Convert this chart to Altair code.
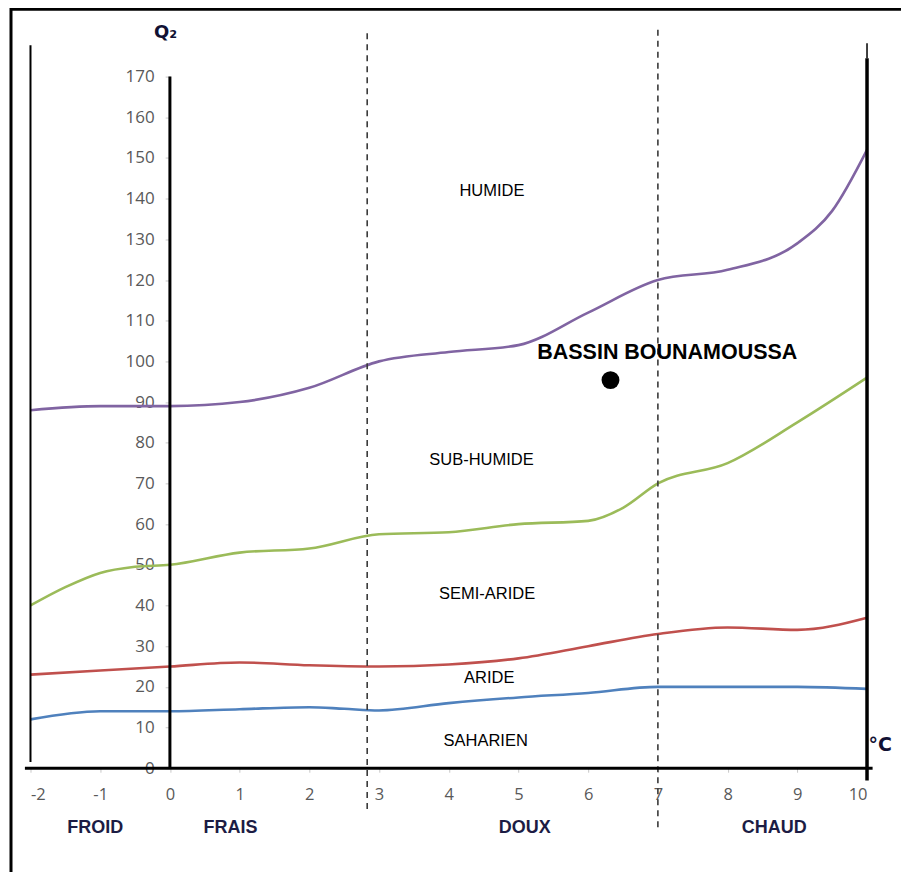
import altair as alt
import pandas as pd

# ---- data ----
x_pts = [-2, -1, 0, 1, 2, 3, 4, 5, 6, 7, 8, 9, 9.5, 10]
humide = [88, 89, 89, 90, 93.5, 100, 102.3, 104, 112, 120, 122.5, 129, 137, 152]
x_green = [-2, -1.5, -1, -0.5, 0, 1, 2, 3, 4, 5, 6, 6.5, 7, 8, 9, 10]
subhumide = [40, 44.5, 48, 49.5, 50, 53, 54, 57.5, 58, 60, 60.8, 64, 70, 75, 85, 96]
x_red = [-2, -1, 0, 1, 2, 3, 4, 5, 6, 7, 8, 9, 10]
semiaride = [23, 24, 25, 26, 25.3, 25, 25.5, 27, 30, 33, 34.6, 34, 37]
x_blue = [-2, -1, 0, 1, 2, 2.5, 3, 4, 5, 6, 7, 8, 9, 10]
aride = [12, 14, 14, 14.5, 15, 14.6, 14.2, 16, 17.4, 18.5, 20, 20, 20, 19.5]

station_name = ["BASSIN BOUNAMOUSSA"]
station_m = [6.32]
station_q2 = [95.4]

zone_names = ["HUMIDE", "SUB-HUMIDE", "SEMI-ARIDE", "ARIDE", "SAHARIEN"]
zone_x = [4.62, 4.47, 4.55, 4.58, 4.53]
zone_y = [142, 75.8, 42.8, 22.2, 6.7]

winter_names = ["FROID", "FRAIS", "DOUX", "CHAUD"]
winter_x = [-1.07, 0.87, 5.09, 8.67]
winter_y = [-14.6, -14.6, -14.6, -14.6]

x_ticks = list(range(-2, 11))
y_ticks = list(range(0, 171, 10))

# ---- tables ----
curves = pd.concat([
    pd.DataFrame({"m": x_pts, "q2": humide, "c": "h"}),
    pd.DataFrame({"m": x_green, "q2": subhumide, "c": "s"}),
    pd.DataFrame({"m": x_red, "q2": semiaride, "c": "a"}),
    pd.DataFrame({"m": x_blue, "q2": aride, "c": "b"}),
])

X = alt.X("m:Q", scale=alt.Scale(domain=[-2, 10], nice=False, zero=False),
          axis=alt.Axis(values=x_ticks, title=None, domain=False, grid=False,
                        tickSize=4, tickColor="#c8c8c8", labelColor="#595959",
                        labelFont="Open Sans", labelFontSize=16.5, labelPadding=14,
                        labelExpr="'' + datum.value"))
Y = alt.Y("q2:Q", scale=alt.Scale(domain=[0, 170], nice=False, zero=False),
          axis=alt.Axis(values=y_ticks, title=None, domain=False, grid=False,
                        offset=-139.75, tickSize=5, tickColor="#c8c8c8",
                        labelColor="#595959", labelFont="Open Sans",
                        labelFontSize=17, labelPadding=11,
                        labelExpr="'' + datum.value"))

base = alt.Chart(curves)

lines = base.mark_line(interpolate="monotone", strokeWidth=2.6, clip=False).encode(
    x=X, y=Y,
    color=alt.Color("c:N", scale=alt.Scale(domain=["h", "s", "a", "b"],
                    range=["#8064a2", "#9bbb59", "#c0504d", "#4f81bd"]), legend=None),
    detail="c:N",
)

# structural rules (in data units)
rules_df = pd.DataFrame({
    "m": [-2, 0, 10, 10],
    "q2": [1.5, 0, -3, 174.5],
    "q2b": [177.7, 170, 174.5, 178.2],
    "w": [2, 3, 3.5, 1.5],
})
vrules = alt.Chart(rules_df).mark_rule(color="black", clip=False).encode(
    x="m:Q", y="q2:Q", y2="q2b:Q",
    strokeWidth=alt.StrokeWidth("w:Q", scale=None),
)
dash_df = pd.DataFrame({"m": [2.83, 7.0], "q2": [-10, -14.5], "q2b": [181.5, 181.5]})
dashes = alt.Chart(dash_df).mark_rule(color="#3a3a3a", strokeWidth=1.6,
                                      strokeDash=[6, 5], clip=False).encode(
    x="m:Q", y="q2:Q", y2="q2b:Q")
xaxis_df = pd.DataFrame({"m": [-2.08], "m2": [10.08], "q2": [0]})
xaxis_line = alt.Chart(xaxis_df).mark_rule(color="black", strokeWidth=3, clip=False).encode(
    x="m:Q", x2="m2:Q", y="q2:Q")

# station point and label
st_df = pd.DataFrame({"m": station_m, "q2": station_q2, "name": station_name})
pt = alt.Chart(st_df).mark_circle(color="black", opacity=1, size=320).encode(x="m:Q", y="q2:Q")
st_lbl = alt.Chart(pd.DataFrame({"m": [5.27], "q2": [102], "name": station_name})).mark_text(
    align="left", baseline="middle", font="Liberation Sans", fontWeight="bold",
    fontSize=21.5, color="black").encode(x="m:Q", y="q2:Q", text="name:N")

zone_df = pd.DataFrame({"m": zone_x, "q2": zone_y, "name": zone_names})
zones = alt.Chart(zone_df).mark_text(font="Liberation Sans", fontSize=16.5, color="black",
                                     baseline="middle").encode(x="m:Q", y="q2:Q", text="name:N")

win_df = pd.DataFrame({"m": winter_x, "q2": winter_y, "name": winter_names})
wins = alt.Chart(win_df).mark_text(font="Liberation Sans", fontWeight="bold", fontSize=18,
                                   color="#1c1c44", baseline="middle", clip=False).encode(
    x="m:Q", y="q2:Q", text="name:N")

ax_lbl = alt.Chart(pd.DataFrame({"m": [-0.1, 10.15], "q2": [180.7, 5.7],
                                 "name": ["Q₂", "°C"], "s": [18, 19]})).mark_text(
    font="DejaVu Sans", fontWeight="bold", color="#111133", baseline="middle",
    align="left", dx=-9).encode(
    x="m:Q", y="q2:Q", text="name:N", size=alt.Size("s:Q", scale=None))

# outer frame (decoration, in pixels)
frame_top = alt.Chart(pd.DataFrame({"k": [0]})).mark_rule(color="black", strokeWidth=3,
                                                          clip=False).encode(
    x=alt.value(-20.5), x2=alt.value(880), y=alt.value(-67.4))
frame_left = alt.Chart(pd.DataFrame({"k": [0]})).mark_rule(color="black", strokeWidth=3,
                                                           clip=False).encode(
    x=alt.value(-19.5), y=alt.value(-68.9), y2=alt.value(810))

chart = alt.layer(lines, vrules, dashes, xaxis_line, pt, st_lbl, zones, wins, ax_lbl,
                  frame_top, frame_left).properties(
    width=837, height=692,
    autosize=alt.AutoSizeParams(type="none"),
    padding={"left": 22.5, "top": 68.4, "right": 34, "bottom": 106},
    background="white",
).configure_view(stroke=None)

chart.save("out.html", embed_options={"renderer": "svg", "actions": False})
